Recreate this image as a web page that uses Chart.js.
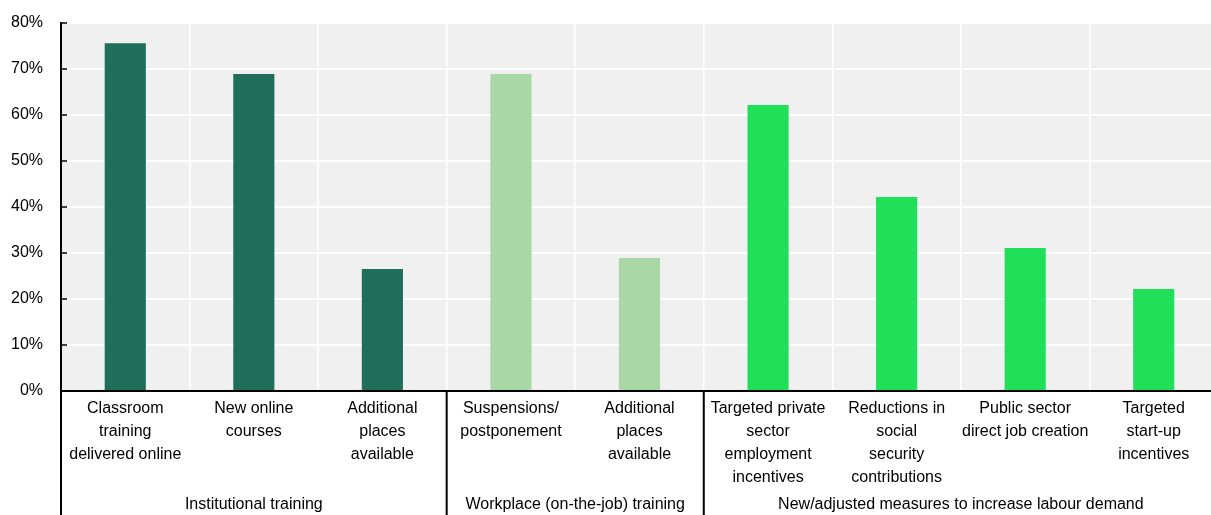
<!DOCTYPE html>
<html>
<head>
<meta charset="utf-8">
<script src="https://cdn.jsdelivr.net/npm/chart.js@4/dist/chart.umd.min.js"></script>
<style>
  html, body { margin: 0; padding: 0; background: #fff; overflow: hidden; }
  #wrap { width: 1211px; height: 515px; overflow: hidden; }
  canvas { display: block; }
</style>
</head>
<body>
<div id="wrap"><canvas id="chart" width="1218" height="515"></canvas></div>
<script>
// Measure categories (multi-line labels) and share of countries using each
const categories = [
  ["Classroom", "training", "delivered online"],
  ["New online", "courses"],
  ["Additional", "places", "available"],
  ["Suspensions/", "postponement"],
  ["Additional", "places", "available"],
  ["Targeted private", "sector", "employment", "incentives"],
  ["Reductions in", "social", "security", "contributions"],
  ["Public sector", "direct job creation"],
  ["Targeted", "start-up", "incentives"]
];
const shares = [75.6, 68.9, 26.5, 68.9, 28.9, 62.2, 42.2, 31.1, 22.2];

// Groups of measures: name, number of categories, bar colour
const groupNames = ["Institutional training", "Workplace (on-the-job) training", "New/adjusted measures to increase labour demand"];
const groupSizes = [3, 2, 4];
const groupColors = ["#1f6e5a", "#aad7a6", "#20e05a"];

// Value axis ticks (%)
const yTickValues = [0, 10, 20, 30, 40, 50, 60, 70, 80];

const FONT = "'Liberation Sans', Arial, sans-serif";

const barColors = [];
groupSizes.forEach((n, g) => { for (let i = 0; i < n; i++) barColors.push(groupColors[g]); });

const plotBackground = {
  id: 'plotBackground',
  beforeDraw(chart) {
    const { ctx, chartArea: a } = chart;
    ctx.save();
    ctx.fillStyle = '#f0f0f0';
    ctx.fillRect(a.left, a.top, a.right - a.left, a.bottom - a.top);
    ctx.restore();
  }
};

const groupAxis = {
  id: 'groupAxis',
  afterDraw(chart) {
    const { ctx, chartArea: a, scales } = chart;
    const x = scales.x, y = scales.y;
    const step = x.getPixelForValue(1) - x.getPixelForValue(0);
    ctx.save();
    // inward tick marks on the value axis
    ctx.strokeStyle = '#000';
    ctx.lineWidth = 1.5;
    yTickValues.forEach(v => {
      const py = y.getPixelForValue(v);
      ctx.beginPath();
      ctx.moveTo(a.left, py);
      ctx.lineTo(a.left + 6, py);
      ctx.stroke();
    });
    // group separators and group names below the category labels
    ctx.lineWidth = 2;
    ctx.fillStyle = '#000';
    ctx.font = '16px ' + FONT;
    ctx.textAlign = 'center';
    ctx.textBaseline = 'middle';
    let start = 0;
    groupSizes.forEach((n, g) => {
      const x0 = x.getPixelForValue(start) - step / 2;
      const x1 = x.getPixelForValue(start + n - 1) + step / 2;
      ctx.beginPath();
      ctx.moveTo(x0, a.bottom);
      ctx.lineTo(x0, chart.height);
      ctx.stroke();
      ctx.fillText(groupNames[g], (x0 + x1) / 2, 505);
      start += n;
    });
    ctx.restore();
  }
};

new Chart(document.getElementById('chart'), {
  type: 'bar',
  data: {
    labels: categories,
    datasets: [{
      data: shares,
      backgroundColor: barColors,
      borderWidth: 0,
      categoryPercentage: 1,
      barPercentage: 0.32
    }]
  },
  options: {
    responsive: false,
    animation: false,
    layout: { padding: { top: 23, left: 0, right: 0, bottom: 0 } },
    plugins: { legend: { display: false }, tooltip: { enabled: false } },
    scales: {
      x: {
        afterFit(scale) { scale.height = 124; },
        grid: { color: '#ffffff', lineWidth: 1.5, drawTicks: false, offset: true },
        border: { color: '#000', width: 2 },
        ticks: {
          color: '#000',
          font: { family: FONT, size: 16, lineHeight: 1.44 },
          padding: 6,
          maxRotation: 0,
          autoSkip: false
        }
      },
      y: {
        min: 0,
        max: 80,
        afterFit(scale) { scale.width = 61; scale.paddingTop = 0; scale.paddingBottom = 0; },
        afterBuildTicks(scale) { scale.ticks = yTickValues.map(v => ({ value: v })); },
        grid: { color: '#ffffff', lineWidth: 2, drawTicks: false },
        border: { color: '#000', width: 2 },
        ticks: {
          color: '#000',
          font: { family: FONT, size: 16 },
          padding: 18,
          callback: v => v + '%'
        }
      }
    }
  },
  plugins: [plotBackground, groupAxis]
});
</script>
</body>
</html>
